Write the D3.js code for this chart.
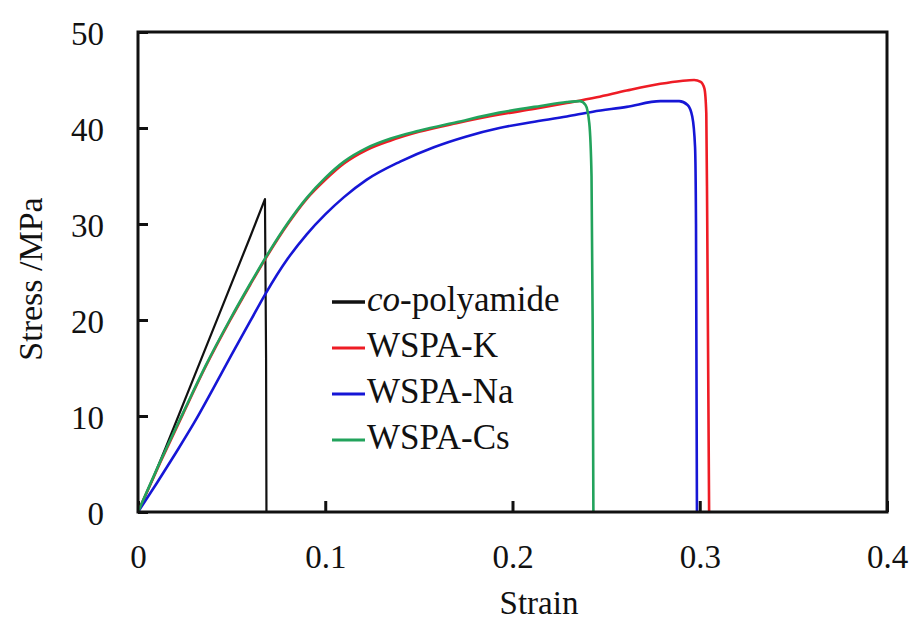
<!DOCTYPE html>
<html>
<head>
<meta charset="utf-8">
<script src="https://cdn.jsdelivr.net/npm/d3@7"></script>
<style>
  body { margin: 0; background: #fff; }
  svg text { font-family: "Liberation Serif", "Times New Roman", serif; fill: #111; }
</style>
</head>
<body>
<svg id="chart"></svg>
<script>
// series data (strain, stress in MPa)
var seriesNames = ["co-polyamide", "WSPA-K", "WSPA-Na", "WSPA-Cs"];
var seriesColors = ["#111111", "#ee1c25", "#1616d6", "#22a35c"];

var coStrain = [0, 0.008, 0.015, 0.03, 0.045, 0.06, 0.0678, 0.0684, 0.0686];
var coStress = [0, 3.5, 6.8, 14.1, 21.4, 28.7, 32.6, 16, 0];

var kStrain = [0, 0.012, 0.024, 0.036, 0.049, 0.06, 0.07, 0.08, 0.09, 0.1, 0.11, 0.122, 0.135, 0.15, 0.17, 0.193, 0.212, 0.229, 0.245, 0.261, 0.279, 0.29, 0.297, 0.3005, 0.3025, 0.3035, 0.304, 0.305];
var kStress = [0, 5.2, 10.2, 15.1, 19.9, 23.7, 27.0, 30.0, 32.6, 34.6, 36.3, 37.7, 38.7, 39.6, 40.5, 41.4, 42.0, 42.6, 43.2, 43.9, 44.6, 44.9, 45.0, 44.8, 44.1, 41.5, 30, 0];

var naStrain = [0, 0.01, 0.02, 0.03, 0.04, 0.05, 0.06, 0.068, 0.08, 0.09, 0.1, 0.11, 0.122, 0.14, 0.158, 0.175, 0.193, 0.21, 0.229, 0.243, 0.261, 0.279, 0.289, 0.2935, 0.296, 0.2975, 0.298, 0.2985];
var naStress = [0, 3.0, 6.1, 9.3, 12.8, 16.4, 19.9, 22.7, 26.4, 28.9, 31.0, 32.8, 34.6, 36.5, 38.0, 39.1, 40.0, 40.6, 41.2, 41.7, 42.2, 42.8, 42.8, 42.4, 41.2, 38, 30, 0];

var csStrain = [0, 0.012, 0.024, 0.036, 0.049, 0.06, 0.07, 0.08, 0.09, 0.1, 0.11, 0.122, 0.135, 0.15, 0.17, 0.193, 0.215, 0.229, 0.236, 0.239, 0.241, 0.2422, 0.2428, 0.2432];
var csStress = [0, 5.3, 10.3, 15.2, 20.0, 23.8, 27.1, 30.1, 32.7, 34.8, 36.5, 37.9, 38.9, 39.7, 40.6, 41.6, 42.3, 42.7, 42.8, 42.4, 40.5, 35, 20, 0];

var xTicks = [0, 0.1, 0.2, 0.3, 0.4];
var yTicks = [0, 10, 20, 30, 40, 50];

var width = 913, height = 623;
var svg = d3.select("#chart").attr("width", width).attr("height", height);

var x = d3.scaleLinear().domain([0, 0.4]).range([138, 887]);
var y = d3.scaleLinear().domain([0, 50]).range([512, 32]);

// axes, ticks point inward
var yAxis = svg.append("g")
  .attr("transform", "translate(138,0)")
  .call(d3.axisLeft(y).tickValues(yTicks).tickSize(-10).tickPadding(34).tickFormat(d3.format("d")));
var xAxis = svg.append("g")
  .attr("transform", "translate(0,512)")
  .call(d3.axisBottom(x).tickValues(xTicks).tickSize(-11).tickPadding(33).tickFormat(d => d === 0 ? "0" : d3.format(".1f")(d)));

[xAxis, yAxis].forEach(function(ax) {
  ax.select(".domain").remove();
  ax.selectAll("line").attr("stroke", "#111").attr("stroke-width", 3);
  ax.selectAll("text").style("font-size", "33px").attr("fill", "#111");
});
yAxis.selectAll("text").attr("dy", "0.38em");

// curves (the brittle co-polyamide one is drawn straight)
var all = [
  [coStrain, coStress],
  [kStrain, kStress],
  [naStrain, naStress],
  [csStrain, csStress]
];
var smooth = d3.line().x(d => x(d[0])).y(d => y(d[1])).curve(d3.curveMonotoneX);
var straight = d3.line().x(d => x(d[0])).y(d => y(d[1]));

all.forEach(function(s, i) {
  var pts = d3.zip(s[0], s[1]);
  svg.append("path")
    .datum(pts)
    .attr("fill", "none")
    .attr("stroke", seriesColors[i])
    .attr("stroke-width", i === 0 ? 2.2 : 2.6)
    .attr("stroke-linejoin", "round")
    .attr("d", i === 0 ? straight : smooth);
});

// frame
svg.append("rect")
  .attr("x", 138).attr("y", 32)
  .attr("width", 887 - 138).attr("height", 512 - 32)
  .attr("fill", "none").attr("stroke", "#111").attr("stroke-width", 3);

// axis titles
svg.append("text")
  .text("Strain")
  .attr("x", 539).attr("y", 614)
  .attr("text-anchor", "middle")
  .style("font-size", "33px");

svg.append("text")
  .text("Stress /MPa")
  .attr("transform", "translate(42,279) rotate(-90)")
  .attr("text-anchor", "middle")
  .style("font-size", "34px");

// legend
var legend = svg.append("g").attr("transform", "translate(332,302)");
seriesNames.forEach(function(name, i) {
  var row = legend.append("g").attr("transform", "translate(0," + (i * 46) + ")");
  row.append("line")
    .attr("x1", 0).attr("x2", 33).attr("y1", 0).attr("y2", 0)
    .attr("stroke", seriesColors[i]).attr("stroke-width", i === 0 ? 3.5 : 3);
  var t = row.append("text").attr("x", 35).attr("y", 9).style("font-size", "35px");
  if (i === 0) {
    t.append("tspan").style("font-style", "italic").text("co");
    t.append("tspan").text("-polyamide");
  } else {
    t.text(name);
  }
});
</script>
</body>
</html>
